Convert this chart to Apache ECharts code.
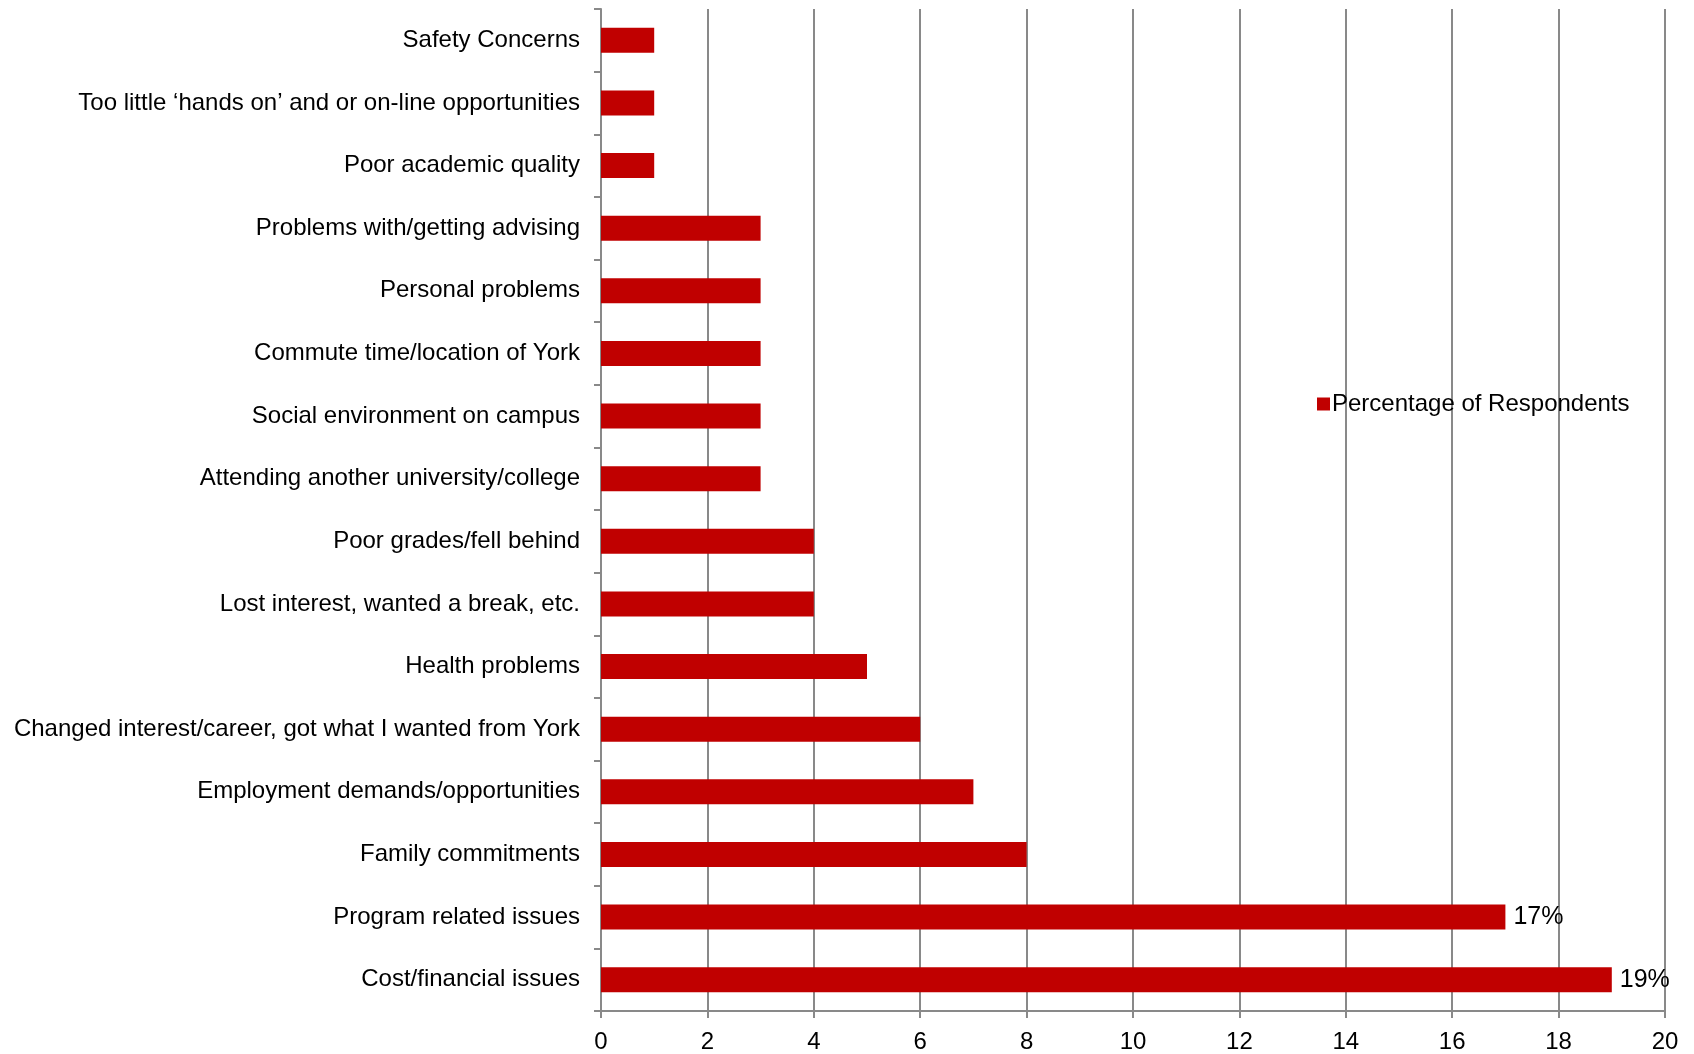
<!DOCTYPE html>
<html>
<head>
<meta charset="utf-8">
<script src="https://cdn.jsdelivr.net/npm/echarts@6/dist/echarts.min.js"></script>
<style>
html,body{margin:0;padding:0;background:#fff;}
#chart{width:1694px;height:1054px;}
</style>
</head>
<body>
<div id="chart"></div>
<script>
const categories = [
  'Safety Concerns',
  'Too little \u2018hands on\u2019 and or on-line opportunities',
  'Poor academic quality',
  'Problems with/getting advising',
  'Personal problems',
  'Commute time/location of York',
  'Social environment on campus',
  'Attending another university/college',
  'Poor grades/fell behind',
  'Lost interest, wanted a break, etc.',
  'Health problems',
  'Changed interest/career, got what I wanted from York',
  'Employment demands/opportunities',
  'Family commitments',
  'Program related issues',
  'Cost/financial issues'
];
const values = [1, 1, 1, 3, 3, 3, 3, 3, 4, 4, 5, 6, 7, 8, 17, 19];
const dataLabels = ['', '', '', '', '', '', '', '', '', '', '', '', '', '', '17%', '19%'];
const xTicks = [0, 2, 4, 6, 8, 10, 12, 14, 16, 18, 20];

const font = 'Liberation Sans, Arial, sans-serif';
const chart = echarts.init(document.getElementById('chart'));
chart.setOption({
  animation: false,
  grid: {left: 601, right: 29, top: 9, bottom: 41, containLabel: false},
  legend: {
    data: ['Percentage of Respondents'],
    left: 1312, top: 387,
    icon: 'rect', itemWidth: 13, itemHeight: 13, itemGap: 4,
    textStyle: {fontFamily: font, fontSize: 24, color: '#000', padding: [0,0,0,-3]}
  },
  xAxis: {
    type: 'value', min: xTicks[0], max: xTicks[xTicks.length - 1], interval: 2,
    axisLine: {show: true, lineStyle: {color: '#898989', width: 2}},
    axisTick: {show: true, length: 7, lineStyle: {color: '#898989', width: 2}},
    splitLine: {show: true, lineStyle: {color: '#898989', width: 2}},
    axisLabel: {fontFamily: font, fontSize: 24, color: '#000', margin: 19}
  },
  yAxis: {
    type: 'category', data: categories, inverse: true,
    axisLine: {show: true, lineStyle: {color: '#898989', width: 2}},
    axisTick: {show: true, length: 7, alignWithLabel: false, lineStyle: {color: '#898989', width: 2}},
    axisLabel: {fontFamily: font, fontSize: 24, color: '#000', margin: 21}
  },
  series: [{
    name: 'Percentage of Respondents',
    type: 'bar',
    data: values,
    barCategoryGap: '60%',
    itemStyle: {color: '#C00000'},
    label: {
      show: true, position: 'right', distance: 8,
      fontFamily: font, fontSize: 25, color: '#000',
      formatter: p => dataLabels[p.dataIndex]
    }
  }]
});
</script>
</body>
</html>
